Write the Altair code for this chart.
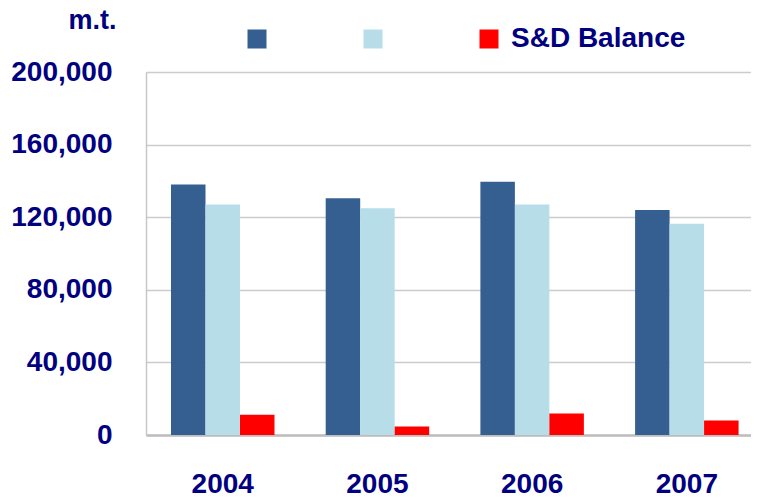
import altair as alt
import pandas as pd

years = ["2004", "2005", "2006", "2007"]
series = ["Supply", "Demand", "S&D Balance"]
supply = [138000, 130500, 139500, 124000]
demand = [127000, 125000, 127000, 116400]
balance = [11200, 4700, 11800, 8000]
colors = ["#365F91", "#B7DEE8", "#FF0000"]
y_ticks = [0, 40000, 80000, 120000, 160000, 200000]

rows = []
for i, yr in enumerate(years):
    for s, vals in zip(series, [supply, demand, balance]):
        rows.append({"year": yr, "series": s, "value": vals[i]})
df = pd.DataFrame(rows)

FONT = "Liberation Sans"
NAVY = "#000080"

chart = alt.Chart(df).mark_bar().encode(
    x=alt.X("year:N", sort=years,
            scale=alt.Scale(paddingInner=0.331, paddingOuter=0.121, align=0.668),
            axis=alt.Axis(title=None, labelAngle=0, labelFont=FONT, labelFontSize=28,
                          labelFontWeight="bold", labelColor=NAVY, labelPadding=35,
                          ticks=False, domainColor="#BDBDBD", domainWidth=2.5)),
    xOffset=alt.XOffset("series:N", sort=series,
                        scale=alt.Scale(paddingInner=0, paddingOuter=0)),
    y=alt.Y("value:Q",
            scale=alt.Scale(domain=[0, 200000], nice=False),
            axis=alt.Axis(values=y_ticks, format=",.0f", title="m.t.", titleAngle=0,
                          titleAlign="right", titleBaseline="alphabetic",
                          titleX=-30, titleY=-44, titleFont=FONT, titleFontSize=27,
                          titleFontWeight="bold", titleColor=NAVY,
                          labelFont=FONT, labelFontSize=28, labelFontWeight="bold",
                          labelColor=NAVY, labelPadding=34, ticks=False,
                          domainColor="#C8C8C8", domainWidth=1.5,
                          gridColor="#CCCCCC", gridWidth=1.5)),
    color=alt.Color("series:N", sort=series,
                    scale=alt.Scale(domain=series, range=colors),
                    legend=alt.Legend(title=None, orient="none", legendX=97, legendY=-47,
                                      direction="horizontal", symbolType="square",
                                      symbolSize=361, symbolStrokeWidth=0,
                                      symbolOpacity=1,
                                      labelExpr="datum.label == 'S&D Balance' ? datum.label : ''",
                                      labelFont=FONT, labelFontSize=28, labelLimit=400,
                                      labelFontWeight="bold", labelColor=NAVY,
                                      labelOffset=8, columnPadding=80, padding=0)),
).properties(
    width=605, height=363,
    autosize=alt.AutoSizeParams(type="none"),
    padding={"left": 138, "top": 64, "right": 0, "bottom": 64},
).configure_view(stroke=None).configure(background="white")

chart.save("out.html", embed_options={"renderer": "svg", "actions": False})
